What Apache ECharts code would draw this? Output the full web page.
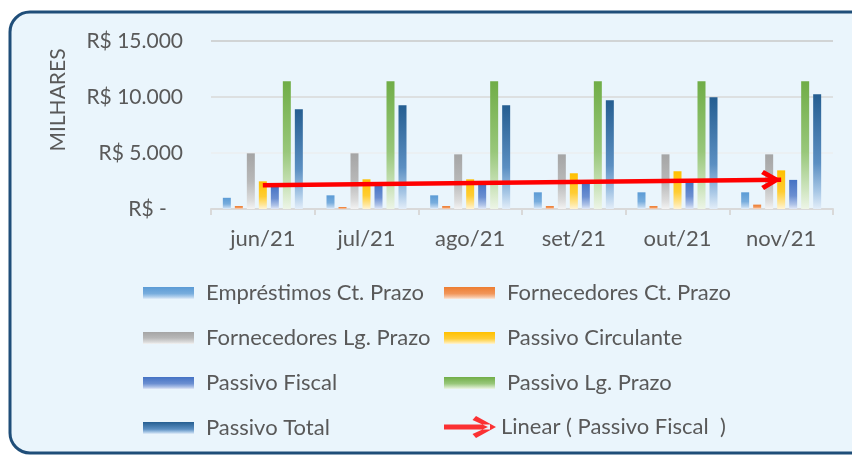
<!DOCTYPE html>
<html>
<head>
<meta charset="utf-8">
<script src="https://cdn.jsdelivr.net/npm/echarts@6/dist/echarts.min.js"></script>
<style>
html,body{margin:0;padding:0;background:#ffffff;}
#c{width:852px;height:455px;}
</style>
</head>
<body>
<div id="c"></div>
<script>
const categories = ['jun/21', 'jul/21', 'ago/21', 'set/21', 'out/21', 'nov/21'];
const emprestimosCt = [1000, 1220, 1220, 1490, 1490, 1490];
const fornecedoresCt = [270, 180, 270, 270, 270, 390];
const fornecedoresLg = [4970, 4970, 4880, 4880, 4880, 4880];
const passivoCirculante = [2470, 2650, 2650, 3190, 3370, 3450];
const passivoFiscal = [2100, 2250, 2350, 2400, 2500, 2600];
const passivoLg = [11400, 11400, 11400, 11400, 11400, 11400];
const passivoTotal = [8900, 9260, 9260, 9700, 9970, 10240];
const yTicks = [0, 5000, 10000, 15000];
const seriesNames = ['Empréstimos Ct. Prazo', 'Fornecedores Ct. Prazo', 'Fornecedores Lg. Prazo',
  'Passivo Circulante', 'Passivo Fiscal', 'Passivo Lg. Prazo', 'Passivo Total'];
const trendName = 'Linear ( Passivo Fiscal  )';

// linear regression (Excel "Linear" trendline) of Passivo Fiscal
const n = passivoFiscal.length;
const mx = (n - 1) / 2;
const my = passivoFiscal.reduce((a, b) => a + b, 0) / n;
let sxy = 0, sxx = 0;
passivoFiscal.forEach((v, i) => { sxy += (i - mx) * (v - my); sxx += (i - mx) * (i - mx); });
const slope = sxy / sxx;
const trend = passivoFiscal.map((v, i) => my + slope * (i - mx));

function grad(stops) {
  return new echarts.graphic.LinearGradient(0, 0, 0, 1,
    stops.map(c => ({ offset: c[0], color: c[1] })));
}
const styles = [
  grad([[0, '#5B9BD5'], [0.55, '#78ADDD'], [0.85, '#B7D3EE'], [1, '#E3EEF9']]),
  grad([[0, '#ED7D31'], [0.55, '#F1965A'], [0.85, '#F7C6A5'], [1, '#FCE9DC']]),
  grad([[0, '#A5A5A5'], [0.5, '#B8B8B8'], [0.85, '#DCDCDC'], [1, '#F3F3F3']]),
  grad([[0, '#FFC000'], [0.55, '#FFCD33'], [0.85, '#FFE699'], [1, '#FFF4D6']]),
  grad([[0, '#4472C4'], [0.55, '#6B8FD1'], [0.85, '#AFC3E8'], [1, '#E1E8F6']]),
  grad([[0, '#70AD47'], [0.55, '#98C77A'], [0.85, '#CFE5C0'], [1, '#EDF5E7']]),
  grad([[0, '#255E91'], [0.6, '#5B8FC2'], [0.85, '#A9C8E6'], [1, '#E3EEF9']])
];
const values = [emprestimosCt, fornecedoresCt, fornecedoresLg, passivoCirculante, passivoFiscal, passivoLg, passivoTotal];

const FONT = 'Lato';
const TXT = '#595959';
// chevron pointing "up" (line direction), tip placed at the symbol centre via an invisible point
const chevron = 'path://M10,0 L10,0.1 Z M10,20 L20,37 L16,39.8 L10,29 L4,39.8 L0,37 Z';
const arrowIcon = 'path://M0,8.5 L46,8.5 L46,13.5 L0,13.5 Z M52,11 L32,0 L28.5,4 L44,11 L28.5,18 L32,22 Z';

const series = seriesNames.map((name, i) => ({
  name: name,
  type: 'bar',
  data: values[i],
  barWidth: 8,
  barGap: '50%',
  itemStyle: { color: styles[i] },
  z: 2
}));
series.push({
  name: trendName,
  type: 'scatter',
  data: trend,
  symbolSize: 0,
  itemStyle: { color: '#FF0000' },
  silent: true,
  z: 5,
  markLine: {
    silent: true,
    symbol: ['none', chevron],
    symbolSize: [20, 40],
    label: { show: false },
    lineStyle: { color: '#FF0000', width: 4.5, type: 'solid', opacity: 1 },
    emphasis: { disabled: true },
    data: [[{ coord: [categories[0], trend[0]] }, { coord: [categories[n - 1], trend[n - 1]] }]]
  }
});

const legendText = { fontFamily: FONT, fontSize: 22, color: TXT, lineHeight: 22 };
const chart = echarts.init(document.getElementById('c'), null, { renderer: 'canvas' });
chart.setOption({
  animation: false,
  backgroundColor: 'transparent',
  textStyle: { fontFamily: FONT },
  graphic: [
    {
      type: 'rect', z: -10, silent: true,
      shape: { x: 10, y: 12, width: 880, height: 441, r: 20 },
      style: { fill: '#EAF5FC', stroke: '#1F4E79', lineWidth: 3 }
    },
    {
      type: 'text', z: 10, silent: true,
      x: 58, y: 100, rotation: Math.PI / 2,
      style: { text: 'MILHARES', fontFamily: FONT, fontSize: 21, fill: TXT, align: 'center', verticalAlign: 'middle' }
    }
  ],
  grid: { left: 211, right: 19, top: 41, bottom: 246, containLabel: false },
  xAxis: {
    type: 'category',
    data: categories,
    axisLine: { show: true, lineStyle: { color: '#D9D9D9', width: 2 } },
    axisTick: { show: true, length: 6, lineStyle: { color: '#D9D9D9', width: 2 } },
    axisLabel: { fontFamily: FONT, fontSize: 22, color: TXT, margin: 19 }
  },
  yAxis: {
    type: 'value',
    min: yTicks[0],
    max: yTicks[yTicks.length - 1],
    interval: yTicks[1] - yTicks[0],
    axisLine: { show: false },
    axisTick: { show: false },
    splitLine: { lineStyle: { color: ['#D9D9D9', '#EBEEF0', '#D9D9D9', '#C8C8C8'], width: 1.5 } },
    axisLabel: {
      fontFamily: FONT, fontSize: 21, color: TXT, margin: 28,
      formatter: v => v === 0 ? 'R$ -   ' : 'R$ ' + String(v).replace(/\B(?=(\d{3})+(?!\d))/g, '.')
    }
  },
  legend: [
    {
      left: 143, top: 282, padding: 0, orient: 'vertical', itemWidth: 51, itemHeight: 12, itemGap: 23,
      icon: 'rect', selectedMode: false,
      data: [seriesNames[0], seriesNames[2], seriesNames[4], seriesNames[6]],
      textStyle: Object.assign({ padding: [0, 0, 0, 7] }, legendText)
    },
    {
      left: 444, top: 282, padding: 0, orient: 'vertical', itemWidth: 51, itemHeight: 12, itemGap: 23,
      icon: 'rect', selectedMode: false,
      data: [seriesNames[1], seriesNames[3], seriesNames[5]],
      textStyle: Object.assign({ padding: [0, 0, 0, 7] }, legendText)
    },
    {
      left: 444, top: 416, padding: 0, orient: 'vertical', itemWidth: 52, itemHeight: 22,
      selectedMode: false,
      data: [{ name: trendName, icon: arrowIcon, itemStyle: { color: '#FF0000' } }],
      textStyle: legendText
    }
  ],
  series: series
});
</script>
</body>
</html>
